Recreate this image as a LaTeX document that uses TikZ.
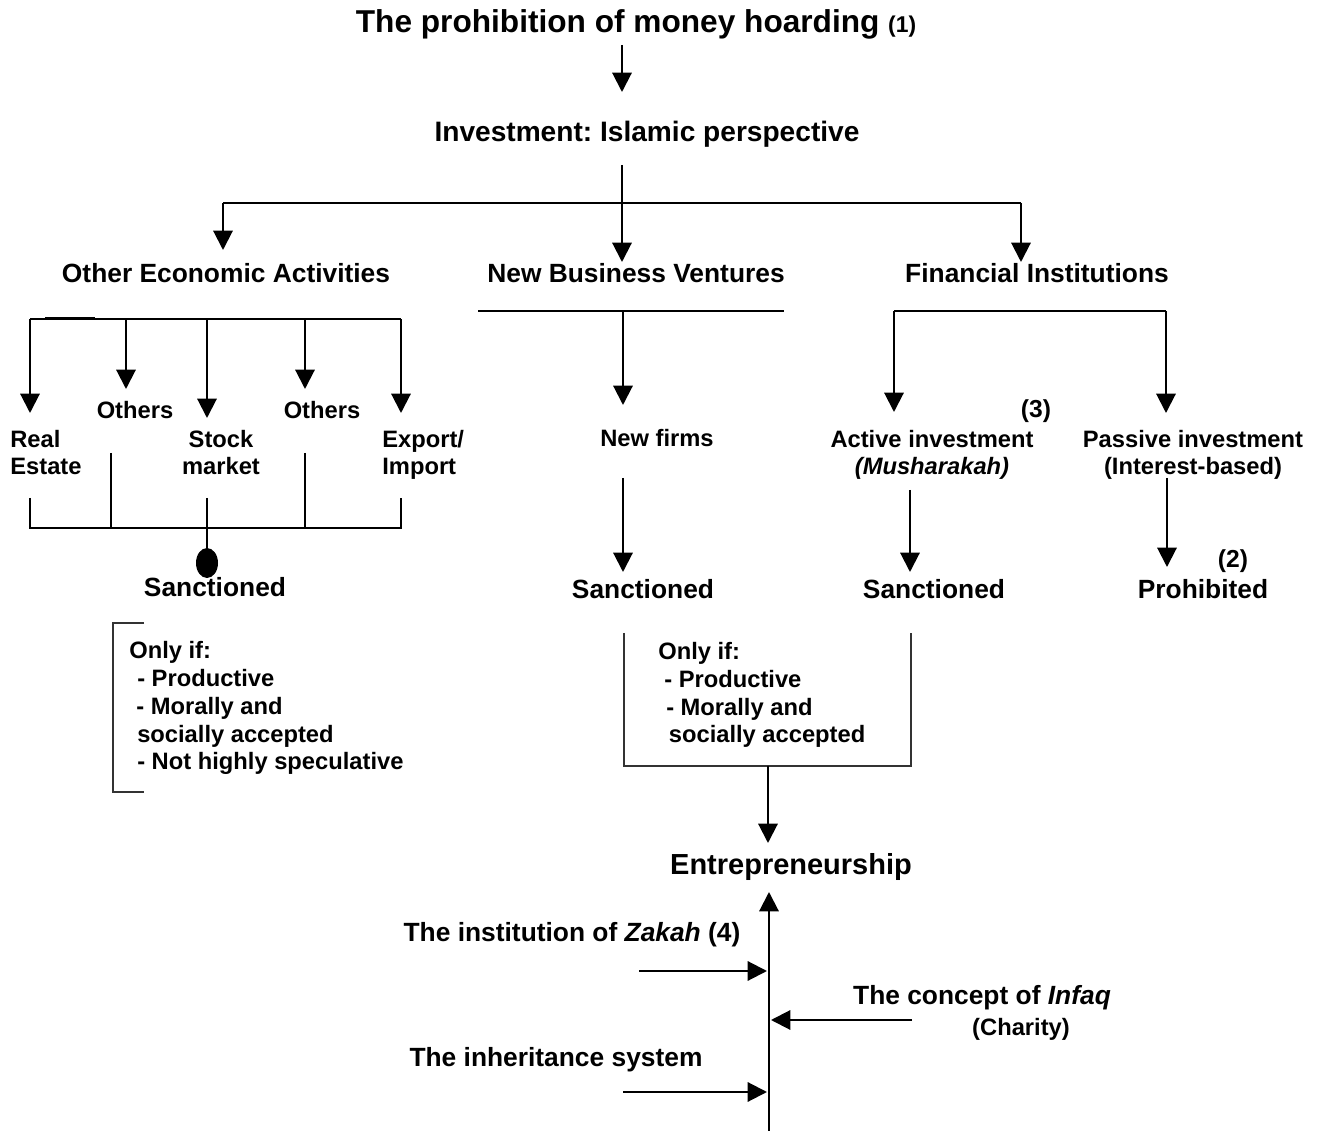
\documentclass[tikz,border=0pt]{standalone}
\usepackage{fontspec}
\setmainfont{Liberation Sans}
\frenchspacing
\usetikzlibrary{arrows.meta,calc,shapes.geometric}
\begin{document}
\begin{tikzpicture}[x=0.02cm,y=-0.02cm,
  title/.style={inner sep=0pt, font=\bfseries\fontsize{18}{21}\selectfont},
  head/.style={inner sep=0pt, font=\bfseries\fontsize{16}{19}\selectfont},
  txt/.style={inner sep=0pt, font=\bfseries\fontsize{15}{17}\selectfont},
  small/.style={inner sep=0pt, font=\bfseries\fontsize{13.5}{15.5}\selectfont},
  list/.style={inner sep=0pt, align=left, font=\bfseries\fontsize{13.5}{15.9}\selectfont},
  arr/.style={line width=1.2pt, -{Triangle[width=11pt,length=11pt]}},
  wire/.style={line width=1.2pt},
  frame/.style={line width=1.2pt, draw=black!80},
  blob/.style={ellipse, fill=black, inner sep=0pt, minimum width=22*0.02cm, minimum height=30*0.02cm},
]
\useasboundingbox (0,0) rectangle (1323,1131);

% ---------- top ----------
\node[title, anchor=base] (hoard) at (636,33)
  {The prohibition of money hoarding {\fontsize{13}{15}\selectfont(1)}};
\node[head, anchor=base] (invest) at (647,142) {Investment: Islamic perspective};
\coordinate (h1) at (622,45);
\coordinate (h2) at (622,92);
\draw[arr] (h1) -- (h2);

% trunk and three branches
\coordinate (t0) at (622,165);
\coordinate (tj) at (622,203);
\coordinate (tl) at (223,203);
\coordinate (tr) at (1021,203);
\draw[wire] (t0) -- (tj);
\draw[wire] (tl) -- (tr);
\node[txt, anchor=base] (oea) at (226,283) {Other Economic Activities};
\node[txt, anchor=base] (nbv) at (636,283) {New Business Ventures};
\node[txt, anchor=base] (fin) at (1037,283) {Financial Institutions};
\draw[arr] (tl) -- (223,250);
\draw[arr] (tj) -- (622,262);
\draw[arr] (tr) -- (1021,262);

% ---------- other economic activities ----------
\coordinate (oL) at (30,319);
\coordinate (oR) at (401,319);
\draw[wire] (oL) -- (oR);
\draw[line width=2.2pt] (45,318.5) -- (95,318.5);
\draw[arr] (oL) -- (30,413);
\draw[arr] (126,319) -- (126,389);
\draw[arr] (207,319) -- (207,418);
\draw[arr] (305,319) -- (305,389);
\draw[arr] (oR) -- (401,413);

\node[small, anchor=base] (oth1) at (135,419) {Others};
\node[small, anchor=base] (oth2) at (322,419) {Others};
% two-line labels: the base anchor sits on the last line
\node[small, anchor=base west, align=left] (real) at (10,475) {Real\\Estate};
\node[small, anchor=base, align=center] (stock) at (221,475) {Stock\\market};
\node[small, anchor=base west, align=left] (expo) at (382,475) {Export/\\Import};

% gathering bracket
\coordinate (gL) at (30,528);
\coordinate (gR) at (401,528);
\coordinate (gM) at (207,528);
\draw[wire] (30,498) -- (gL) -- (gR) -- (401,498);
\draw[wire] (111,453) -- (111,528);
\draw[wire] (305,453) -- (305,528);
\draw[wire] (207,498) -- (gM);
\node[blob] (dot) at (207,563) {};
\draw[wire] (gM) -- (dot);
\node[txt, anchor=base] (sancL) at (215,597) {Sanctioned};

% condition list (left)
\draw[frame] (144,623) -- (113,623) -- (113,792) -- (144,792);
\node[list, anchor=base west] (condL) at (129,770)
  {Only if:\\
   \hspace{4.5pt}- Productive\\
   \hspace{4pt}- Morally and\\
   \hspace{4.5pt}socially accepted\\
   \hspace{4.5pt}- Not highly speculative};

% ---------- new business ventures ----------
\coordinate (nL) at (478,311);
\coordinate (nR) at (784,311);
\coordinate (nM) at (623,311);
\draw[wire] (nL) -- (nR);
\draw[arr] (nM) -- (623,405);
\node[small, anchor=base] (firms) at (657,447) {New firms};
\draw[arr] (623,478) -- (623,572);
\node[txt, anchor=base] (sancM) at (643,599) {Sanctioned};

\draw[frame] (624,633) -- (624,766) -- (911,766) -- (911,633);
\node[list, anchor=base west] (condM) at (658,743)
  {Only if:\\
   \hspace{3.4pt}- Productive\\
   \hspace{4.5pt}- Morally and\\
   \hspace{6pt}socially accepted};
\draw[arr] (768,766) -- (768,843);
\node[inner sep=0pt, font=\bfseries\fontsize{16.5}{19}\selectfont, anchor=base] (entre) at (791,874) {Entrepreneurship};

% ---------- financial institutions ----------
\coordinate (fL) at (894,311);
\coordinate (fR) at (1166,311);
\draw[wire] (fL) -- (fR);
\draw[arr] (fL) -- (894,412);
\draw[arr] (fR) -- (1166,413);
\node[inner sep=0pt, font=\bfseries\fontsize{14}{16}\selectfont, anchor=base] (n3) at (1036,418) {(3)};
\node[small, anchor=base, align=center] (active) at (932,475) {Active investment\\\textit{(Musharakah)}};
\node[small, anchor=base, align=center] (passive) at (1193,475) {Passive investment\\(Interest-based)};
\draw[arr] (910,490) -- (910,572);
\node[txt, anchor=base] (sancR) at (934,599) {Sanctioned};
\draw[arr] (1167,478) -- (1167,567);
\node[inner sep=0pt, font=\bfseries\fontsize{14}{16}\selectfont, anchor=base] (n2) at (1233,568) {(2)};
\node[txt, anchor=base] (prohib) at (1203,599) {Prohibited};

% ---------- supporting institutions ----------
\coordinate (eBot) at (769,1131);
\coordinate (eTop) at (769,892);
\draw[arr] (eBot) -- (eTop);
\node[txt, anchor=base] (zakah) at (572,942) {The institution of \textit{Zakah} (4)};
\draw[arr] (639,971) -- (767,971);
\node[txt, anchor=base] (infaq) at (982,1004) {The concept of \textit{Infaq}};
\node[small, anchor=base] (charity) at (1021,1035) {(Charity)};
\draw[arr] (912,1020) -- (771,1020);
\node[txt, anchor=base] (inherit) at (556,1066) {The inheritance system};
\draw[arr] (623,1092) -- (767,1092);
\end{tikzpicture}
\end{document}
